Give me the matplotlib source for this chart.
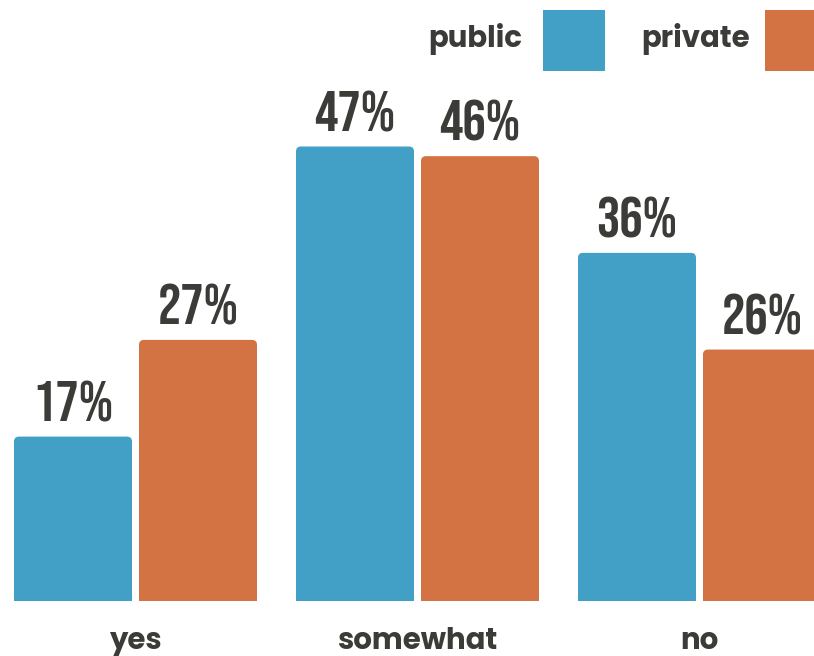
import matplotlib
matplotlib.use("Agg")
import matplotlib.pyplot as plt
from matplotlib.patches import FancyBboxPatch, Rectangle
from matplotlib import font_manager
import numpy as np

categories = ["yes", "somewhat", "no"]
public = [17, 47, 36]
private = [27, 46, 26]
series_names = ["public", "private"]

BLUE = "#42a0c6"
ORANGE = "#d37243"
INK = "#3b3b37"

# pick the first face that is installed
names = {f.name for f in font_manager.fontManager.ttflist}


def first(*fams):
    for f in fams:
        if f in names:
            return f
    return "DejaVu Sans"


num_font = dict(family=first("Bebas Neue", "Oswald", "Fjalla One",
                             "Liberation Sans Narrow"), weight="bold")
lab_font = dict(family=first("Poppins", "Montserrat", "DejaVu Sans"),
                weight="bold")

fig = plt.figure(figsize=(8.14, 6.56), dpi=100)
ax = fig.add_axes([0, 0, 1, 1])
step = 282.0
ax.set_xlim(-135.5 / step, (814 - 135.5) / step)
ax.set_ylim(-5.69, 62.15)
ax.axis("off")

x = np.arange(len(categories))
w = 118 / step
off = 62.5 / step

clip = Rectangle((-1, 0), 5, 100, transform=ax.transData)


def rounded(bars, color):
    # swap plain bars for ones with rounded top corners
    for b in bars:
        b.set_visible(False)
        x0, h, bw = b.get_x(), b.get_height(), b.get_width()
        r = 5 / step
        p = FancyBboxPatch((x0, -3), bw, h + 3,
                           boxstyle=f"round,pad=0,rounding_size={r}",
                           mutation_aspect=(step / 9.67), fc=color, ec="none")
        ax.add_patch(p)
        p.set_clip_path(clip)
        ax.annotate(f"{h:.0f}%", (x0 + bw / 2, h), xytext=(0, 11),
                    textcoords="offset points", ha="center", va="baseline",
                    fontsize=42, color=INK, **num_font)


rounded(ax.bar(x - off, public, w), BLUE)
rounded(ax.bar(x + off, private, w), ORANGE)

for xi, c in zip(x, categories):
    ax.text(xi, -4.95, c, ha="center", va="baseline", fontsize=21,
            color=INK, **lab_font)

# legend: label then square swatch
fig.text(522 / 814, 1 - 47 / 656, series_names[0], ha="right", va="baseline",
         fontsize=21, color=INK, **lab_font)
fig.text(750 / 814, 1 - 47 / 656, series_names[1], ha="right", va="baseline",
         fontsize=21, color=INK, **lab_font)
for x0, col in [(543, BLUE), (765, ORANGE)]:
    fig.patches.append(Rectangle((x0 / 814, 1 - 71 / 656), 62 / 814, 61 / 656,
                                 transform=fig.transFigure, fc=col, ec="none"))

fig.savefig("out.png", dpi=100)
